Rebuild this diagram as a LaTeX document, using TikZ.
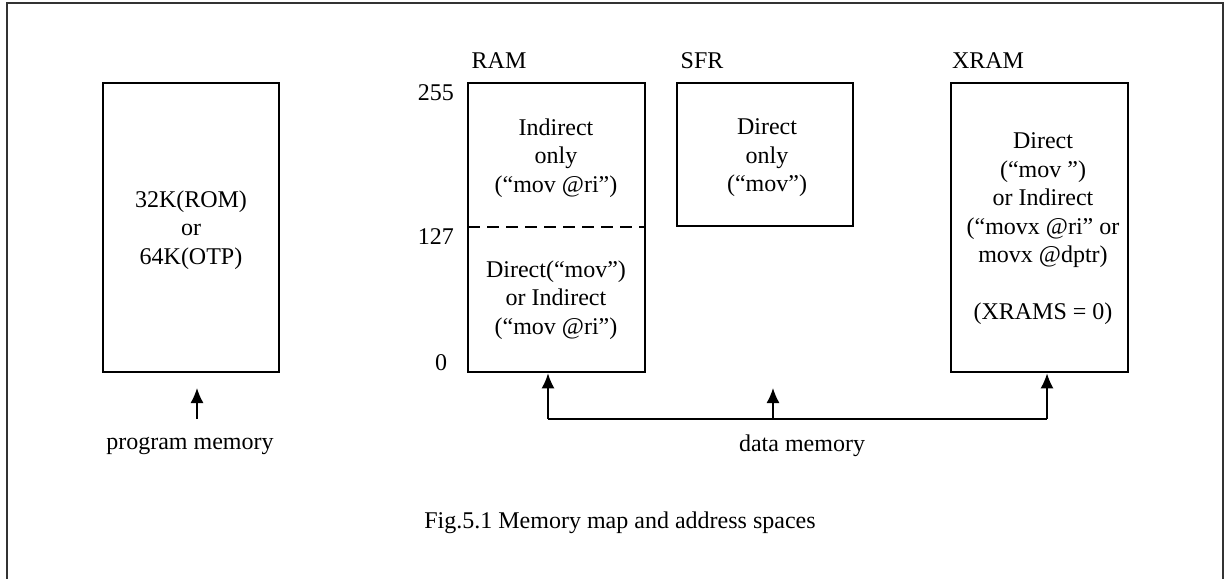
\documentclass[tikz,border=0pt]{standalone}
\usepackage{fontspec}
\setmainfont{Liberation Serif}
\usetikzlibrary{arrows.meta}
\begin{document}
\begin{tikzpicture}[x=1pt,y=-1pt,
  every node/.style={font=\fontsize{24}{28.5}\selectfont, inner sep=0pt, align=center},
  membox/.style={draw, line width=2.8pt, inner sep=0pt},
  conn/.style={line width=1.4pt},
  arr/.style={conn, -{Latex[length=15pt,width=13pt]}},
  frame/.style={line width=2.2pt, black!80}]
\useasboundingbox (0,0) rectangle (1228,578);
\draw[frame] (7,580) -- (7,3) -- (1223,3) -- (1223,580);

% boxes
\node[membox, minimum width=176pt, minimum height=289pt] (prog) at (191,227.5) {};
\node (progtxt) at (191,230) {32K(ROM)\\or\\64K(OTP)};

\node[membox, minimum width=177pt, minimum height=289pt] (ram) at (556.5,227.5) {};
\node (ramhi) at (556,158) {Indirect\\only\\(“mov @ri”)};
\node (ramlo) at (556,300) {Direct(“mov”)\\or Indirect\\(“mov @ri”)};
\coordinate (dashl) at (468,227);
\coordinate (dashr) at (645,227);
\draw[line width=2.8pt, dash pattern=on 12pt off 7pt] (dashl) -- (dashr);

\node[membox, minimum width=176pt, minimum height=143pt] (sfr) at (765,154.5) {};
\node (sfrtxt) at (767,158) {Direct\\only\\(“mov”)};

\node[membox, minimum width=177pt, minimum height=289pt] (xram) at (1039.5,227.5) {};
\node (xramtxt) at (1043,229) {Direct\\(“mov ”)\\or Indirect\\(“movx @ri” or\\movx @dptr)\\[28.5pt](XRAMS = 0)};

% labels
\node (ramlbl) at (499,61) {RAM};
\node (sfrlbl) at (702,61) {SFR};
\node (xramlbl) at (988,61) {XRAM};
\node[anchor=east] (a255) at (454,93) {255};
\node[anchor=east] (a127) at (454,237) {127};
\node (a0) at (441,363) {0};

% program memory arrow
\coordinate (pbot) at (197,419);
\coordinate (ptop) at (197,388);
\draw[arr] (pbot) -- (ptop);
\node (proglbl) at (190,446) {program memory};

% data memory connectors
\coordinate (dl) at (548,419);
\coordinate (dm) at (773,419);
\coordinate (dr) at (1047,419);
\coordinate (dmtop) at (773,388);
\draw[conn] (dl) -- (dr);
\draw[arr] (dl) -- (dl |- ram.south);
\draw[arr] (dr) -- (dr |- xram.south);
\draw[arr] (dm) -- (dmtop);
\node (datalbl) at (802,446) {data memory};

\node (caption) at (620,523) {Fig.5.1 Memory map and address spaces};
\end{tikzpicture}
\end{document}
